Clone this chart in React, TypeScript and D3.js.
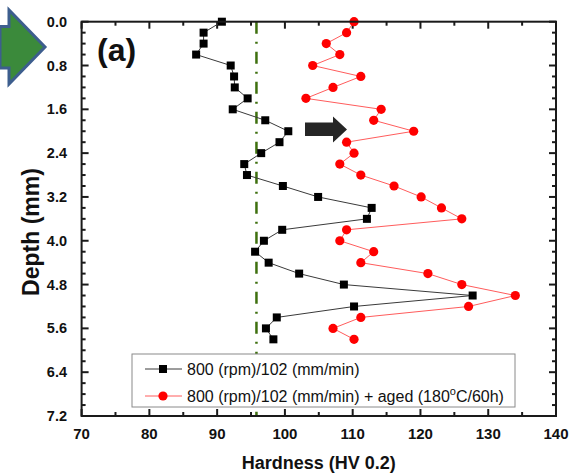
import React from 'react';
import * as d3 from 'd3';

// depth of each indent (mm)
const DEPTH = [0.0, 0.2, 0.4, 0.6, 0.8, 1.0, 1.2, 1.4, 1.6, 1.8, 2.0, 2.2, 2.4, 2.6, 2.8,
  3.0, 3.2, 3.4, 3.6, 3.8, 4.0, 4.2, 4.4, 4.6, 4.8, 5.0, 5.2, 5.4, 5.6, 5.8];

// hardness, as welded
const HV_WELD = [90.7, 88.0, 88.0, 86.9, 92.0, 92.5, 92.6, 94.5, 92.3, 97.1, 100.5, 99.2, 96.5, 94.0, 94.4,
  99.7, 104.9, 112.8, 112.1, 99.6, 96.9, 95.6, 97.6, 102.1, 108.7, 127.7, 110.2, 98.8, 97.2, 98.3];

// hardness, after ageing
const HV_AGED = [110.2, 109.1, 106.1, 108.1, 104.1, 111.2, 107.1, 103.1, 114.2, 113.1, 119.0, 109.1, 110.2, 108.1, 111.2,
  116.1, 120.1, 123.1, 126.1, 109.1, 108.1, 113.1, 111.2, 121.1, 126.1, 134.0, 127.1, 111.2, 107.1, 110.2];

const BASE_METAL_HV = 95.8;

const X_TICKS = [70, 80, 90, 100, 110, 120, 130, 140];
const X_MINOR = [75, 85, 95, 105, 115, 125, 135];
const Y_TICKS = [0.0, 0.8, 1.6, 2.4, 3.2, 4.0, 4.8, 5.6, 6.4, 7.2];

const FONT = '"Liberation Sans", Arial, sans-serif';

const W = 576;
const H = 474;
const left = 81.6, right = 556, top = 21.7, bottom = 416;

export default function App() {
  const x = d3.scaleLinear().domain([70, 140]).range([left, right]);
  const y = d3.scaleLinear().domain([0, 7.2]).range([top, bottom]);

  const yMinor = d3.range(0, 7.2001, 0.2).filter(v => Math.abs(v / 0.8 - Math.round(v / 0.8)) > 1e-6);

  const line = d3.line<number>()
    .x(d => x(d))
    .y((_, i) => y(DEPTH[i]));

  const major = 7, minor = 4;

  return (
    <svg width={W} height={H} style={{ position: 'absolute', left: 0, top: 0, background: '#fff' }} fontFamily={FONT}>
      {/* green arrow, top left */}
      <polygon points="0,26.5 9,26.5 9,10 45,47 9,84 9,68 0,68" fill="#3b8a3b" stroke="#3d5e8e" strokeWidth={3} strokeLinejoin="miter" />

      {/* base metal reference */}
      <line x1={x(BASE_METAL_HV)} x2={x(BASE_METAL_HV)} y1={top} y2={bottom}
        stroke="#3f700f" strokeWidth={2.5} strokeDasharray="12,8,2,8" />

      {/* ticks */}
      <g stroke="#1a1a1a" strokeWidth={2}>
        {X_TICKS.map(t => (
          <g key={'xt' + t}>
            <line x1={x(t)} x2={x(t)} y1={bottom} y2={bottom - major} />
            <line x1={x(t)} x2={x(t)} y1={top} y2={top + major} />
          </g>
        ))}
        {X_MINOR.map(t => (
          <g key={'xm' + t}>
            <line x1={x(t)} x2={x(t)} y1={bottom} y2={bottom - minor} />
            <line x1={x(t)} x2={x(t)} y1={top} y2={top + minor} />
          </g>
        ))}
        {Y_TICKS.map(t => (
          <g key={'yt' + t}>
            <line x1={left} x2={left + major} y1={y(t)} y2={y(t)} />
            <line x1={right} x2={right - major} y1={y(t)} y2={y(t)} />
          </g>
        ))}
        {yMinor.map(t => (
          <g key={'ym' + t}>
            <line x1={left} x2={left + minor} y1={y(t)} y2={y(t)} />
            <line x1={right} x2={right - minor} y1={y(t)} y2={y(t)} />
          </g>
        ))}
      </g>

      {/* series */}
      <path d={line(HV_WELD) || ''} fill="none" stroke="#3a3a3a" strokeWidth={1} />
      <path d={line(HV_AGED) || ''} fill="none" stroke="#ff5c5c" strokeWidth={1} />
      {HV_WELD.map((v, i) => (
        <rect key={'s' + i} x={x(v) - 4} y={y(DEPTH[i]) - 4} width={8} height={8} fill="#000" />
      ))}
      {HV_AGED.map((v, i) => (
        <circle key={'c' + i} cx={x(v)} cy={y(DEPTH[i])} r={4.6} fill="#ff0000" />
      ))}

      {/* black arrow */}
      <polygon points="305,122.5 333,122.5 333,116.5 347,129.5 333,142.5 333,136 305,136" fill="#262626" />

      {/* frame */}
      <rect x={left} y={top} width={right - left} height={bottom - top} fill="none" stroke="#1a1a1a" strokeWidth={2} />

      {/* panel label */}
      <text x={97} y={61} fontSize={32} fontWeight="bold" fill="#111">(a)</text>

      {/* tick labels */}
      {X_TICKS.map(t => (
        <text key={'xl' + t} x={x(t)} y={439} textAnchor="middle" fontSize={15} fontWeight="bold" fill="#111">{t}</text>
      ))}
      {Y_TICKS.map(t => (
        <text key={'yl' + t} x={67} y={y(t) + 5} textAnchor="end" fontSize={14.5} fontWeight="bold" fill="#111">{t.toFixed(1)}</text>
      ))}

      {/* axis titles */}
      <text x={(left + right) / 2} y={469} textAnchor="middle" fontSize={18} fontWeight="bold" fill="#111">Hardness (HV 0.2)</text>
      <text transform={`translate(39,${232}) rotate(-90)`} textAnchor="middle" fontSize={23} fontWeight="bold" fill="#111">Depth (mm)</text>

      {/* legend */}
      <rect x={132} y={354} width={383} height={53} fill="#fff" stroke="#8a8a8a" strokeWidth={1} />
      <line x1={145} x2={182} y1={369} y2={369} stroke="#3a3a3a" strokeWidth={1} />
      <rect x={163 - 4} y={369 - 4} width={8} height={8} fill="#000" />
      <text x={187} y={375} fontSize={16} fill="#111">800 (rpm)/102 (mm/min)</text>
      <line x1={145} x2={182} y1={396} y2={396} stroke="#ff5c5c" strokeWidth={1} />
      <circle cx={163} cy={396} r={4.6} fill="#ff0000" />
      <text x={187} y={402} fontSize={16} fill="#111">
        800 (rpm)/102 (mm/min) + aged (180<tspan dy={-7} fontSize={11}>o</tspan><tspan dy={7}>C/60h)</tspan>
      </text>
    </svg>
  );
}
